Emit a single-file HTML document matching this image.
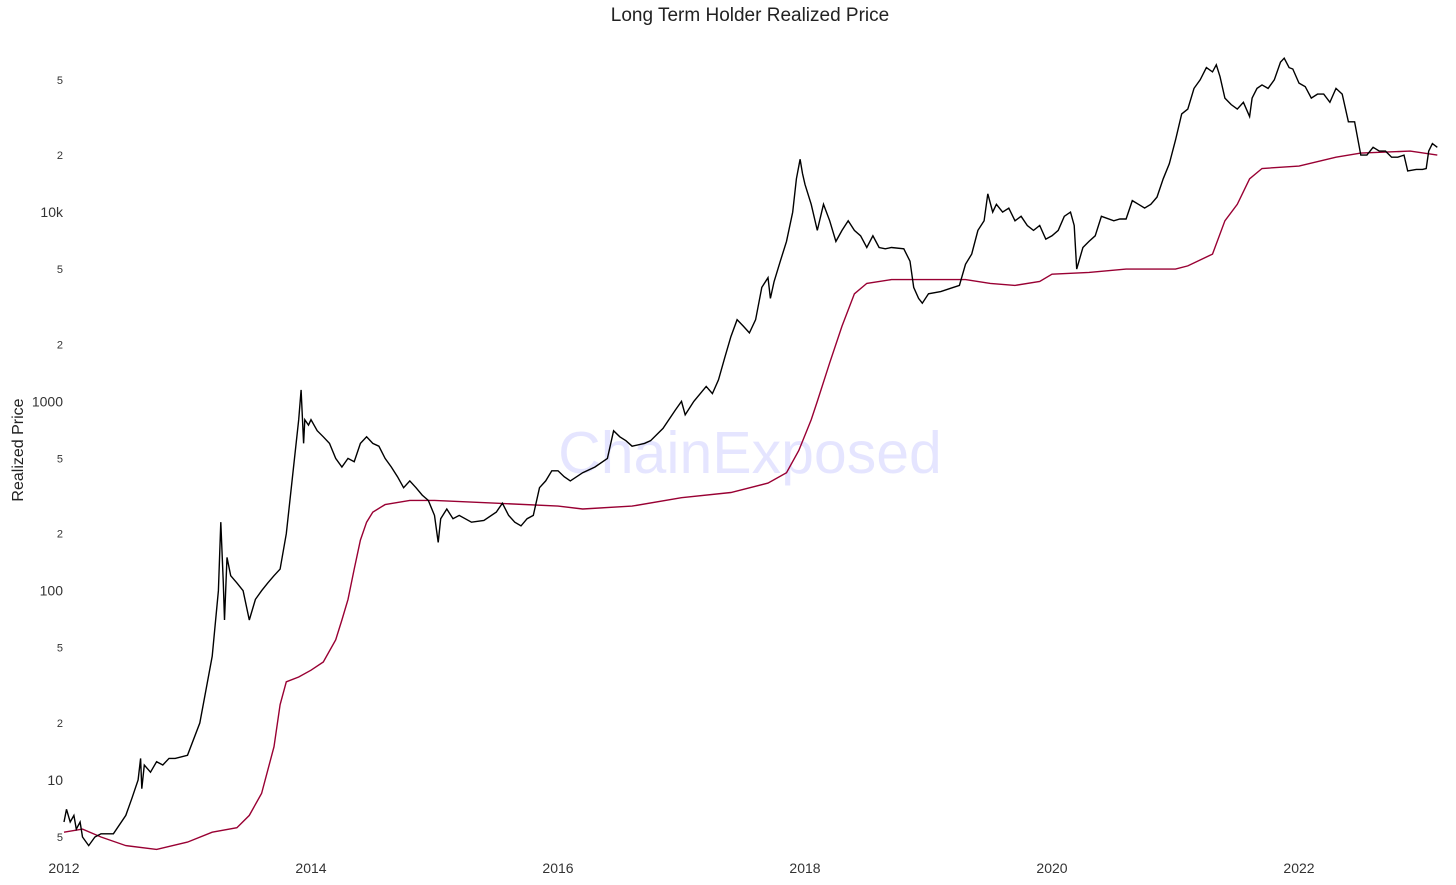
<!DOCTYPE html>
<html><head><meta charset="utf-8"><style>
html,body{margin:0;padding:0;background:#fff;}
svg{display:block;font-family:"Liberation Sans",Verdana,sans-serif;}
</style></head><body>
<svg id="chart" width="1456" height="885" viewBox="0 0 1456 885" xmlns="http://www.w3.org/2000/svg">
<text x="750" y="21" text-anchor="middle" font-size="19" fill="#222">Long Term Holder Realized Price</text>
<text transform="translate(23,450) rotate(-90)" text-anchor="middle" font-size="16" fill="#222">Realized Price</text>
<text x="750" y="473" text-anchor="middle" font-size="59" fill="#0000ff" fill-opacity="0.1">ChainExposed</text>
<g id="yticks"></g>
<g id="xticks"></g>
<g id="series"></g>
</svg>
<script>
const priceDates=[2012.0,2012.02,2012.05,2012.08,2012.1,2012.13,2012.15,2012.2,2012.25,2012.3,2012.4,2012.5,2012.55,2012.6,2012.62,2012.63,2012.65,2012.7,2012.75,2012.8,2012.85,2012.9,2013.0,2013.1,2013.15,2013.2,2013.25,2013.27,2013.29,2013.3,2013.32,2013.35,2013.4,2013.45,2013.5,2013.55,2013.6,2013.65,2013.7,2013.75,2013.8,2013.85,2013.9,2013.92,2013.94,2013.95,2013.98,2014.0,2014.05,2014.1,2014.15,2014.2,2014.25,2014.3,2014.35,2014.4,2014.45,2014.5,2014.55,2014.6,2014.65,2014.7,2014.75,2014.8,2014.85,2014.9,2014.95,2015.0,2015.03,2015.05,2015.1,2015.15,2015.2,2015.3,2015.4,2015.5,2015.55,2015.6,2015.65,2015.7,2015.75,2015.8,2015.85,2015.9,2015.95,2016.0,2016.05,2016.1,2016.2,2016.3,2016.4,2016.45,2016.5,2016.55,2016.6,2016.7,2016.75,2016.85,2016.95,2017.0,2017.03,2017.1,2017.2,2017.25,2017.3,2017.35,2017.4,2017.45,2017.5,2017.55,2017.6,2017.65,2017.7,2017.72,2017.75,2017.8,2017.85,2017.9,2017.93,2017.96,2017.98,2018.0,2018.05,2018.1,2018.15,2018.2,2018.25,2018.3,2018.35,2018.4,2018.45,2018.5,2018.55,2018.6,2018.65,2018.7,2018.8,2018.85,2018.88,2018.92,2018.95,2019.0,2019.1,2019.2,2019.25,2019.3,2019.35,2019.4,2019.45,2019.48,2019.52,2019.55,2019.6,2019.65,2019.7,2019.75,2019.8,2019.85,2019.9,2019.95,2020.0,2020.05,2020.1,2020.15,2020.18,2020.2,2020.25,2020.3,2020.35,2020.4,2020.5,2020.55,2020.6,2020.65,2020.7,2020.75,2020.8,2020.85,2020.9,2020.95,2021.0,2021.05,2021.1,2021.15,2021.2,2021.25,2021.3,2021.33,2021.36,2021.4,2021.45,2021.5,2021.55,2021.6,2021.62,2021.66,2021.7,2021.75,2021.8,2021.85,2021.88,2021.92,2021.95,2022.0,2022.05,2022.1,2022.15,2022.2,2022.25,2022.3,2022.35,2022.4,2022.45,2022.5,2022.55,2022.6,2022.65,2022.7,2022.75,2022.8,2022.85,2022.88,2022.95,2023.0,2023.03,2023.05,2023.08,2023.12];
const priceValues=[6,7,6,6.5,5.5,6,5,4.5,5,5.2,5.2,6.5,8,10,13,9,12,11,12.5,12,13,13,13.5,20,30,45,100,230,110,70,150,120,110,100,70,90,100,110,120,130,200,400,800,1150,600,800,750,800,700,650,600,500,450,500,480,600,650,600,580,500,450,400,350,380,350,320,300,250,180,240,270,240,250,230,235,260,290,250,230,220,240,250,350,380,430,430,400,380,420,450,500,700,650,620,580,600,620,720,900,1000,850,1000,1200,1100,1300,1700,2200,2700,2500,2300,2700,4000,4500,3500,4300,5500,7000,10000,15000,19000,16000,14000,11000,8000,11000,9000,7000,8000,9000,8000,7500,6500,7500,6500,6400,6500,6400,5500,4000,3500,3300,3700,3800,4000,4100,5300,6000,8000,9000,12500,10000,11000,10000,10500,9000,9500,8500,8000,8500,7200,7500,8000,9500,10000,8500,5000,6500,7000,7500,9500,9000,9200,9200,11500,11000,10500,11000,12000,15000,18000,24000,33000,35000,45000,50000,58000,55000,60000,52000,40000,37000,35000,38000,32000,40000,45000,47000,45000,50000,62000,65000,58000,57000,48000,46000,40000,42000,42000,38000,45000,42000,30000,30000,20000,20000,22000,21000,21000,19500,19500,20000,16500,16800,16800,17000,21000,23000,22000,24000];
const lthDates=[2012.0,2012.15,2012.3,2012.5,2012.75,2013.0,2013.2,2013.4,2013.5,2013.6,2013.7,2013.75,2013.8,2013.9,2014.0,2014.1,2014.2,2014.25,2014.3,2014.35,2014.4,2014.45,2014.5,2014.6,2014.8,2015.0,2015.5,2016.0,2016.2,2016.6,2017.0,2017.4,2017.7,2017.85,2017.95,2018.05,2018.1,2018.2,2018.3,2018.4,2018.5,2018.7,2019.0,2019.3,2019.5,2019.7,2019.9,2020.0,2020.3,2020.6,2020.9,2021.0,2021.1,2021.3,2021.4,2021.5,2021.6,2021.7,2022.0,2022.3,2022.5,2022.9,2023.12];
const lthValues=[5.3,5.5,5,4.5,4.3,4.7,5.3,5.6,6.5,8.5,15,25,33,35,38,42,55,70,90,130,185,230,260,285,300,300,290,280,270,280,310,330,370,420,550,800,1000,1600,2500,3700,4200,4400,4400,4400,4200,4100,4300,4700,4800,5000,5000,5000,5200,6000,9000,11000,15000,17000,17500,19500,20500,21000,20000];
const yTickVals=[5,10,20,50,100,200,500,1000,2000,5000,10000,20000,50000];
const yTickLabels=["5","10","2","5","100","2","5","1000","2","5","10k","2","5"];
const xTickVals=[2012,2014,2016,2018,2020,2022];

const NS="http://www.w3.org/2000/svg";
function xScale(t){return 64+(t-2012)*123.5;}
function yScale(v){return 780-(Math.log10(v)-1)*189.3;}
const yt=document.getElementById('yticks');
yTickVals.forEach((v,i)=>{
  const t=document.createElementNS(NS,'text');
  const major=/^(10|100|1000|10k)$/.test(yTickLabels[i]);
  t.setAttribute('x',63);t.setAttribute('y',yScale(v)+(major?5:4));
  t.setAttribute('text-anchor','end');t.setAttribute('font-size',major?14:11);t.setAttribute('fill','#333');
  t.textContent=yTickLabels[i];
  
  
  yt.appendChild(t);
});
const xt=document.getElementById('xticks');
xTickVals.forEach(v=>{
  const t=document.createElementNS(NS,'text');
  t.setAttribute('x',xScale(v));t.setAttribute('y',873);
  t.setAttribute('text-anchor','middle');t.setAttribute('font-size',14);t.setAttribute('fill','#333');
  t.textContent=String(v);
  
  
  xt.appendChild(t);
});
function line(d,v,color,name){
  const p=document.createElementNS(NS,'path');
  p.setAttribute('d',d.map((t,i)=>(i?'L':'M')+xScale(t).toFixed(1)+','+yScale(v[i]).toFixed(1)).join(''));
  p.setAttribute('fill','none');p.setAttribute('stroke',color);p.setAttribute('stroke-width',1.4);
  
  
  document.getElementById('series').appendChild(p);
}
line(lthDates,lthValues,'#990033','lth-realized-price-line');
line(priceDates,priceValues,'#000','btc-price-line');
</script>
</body></html>
